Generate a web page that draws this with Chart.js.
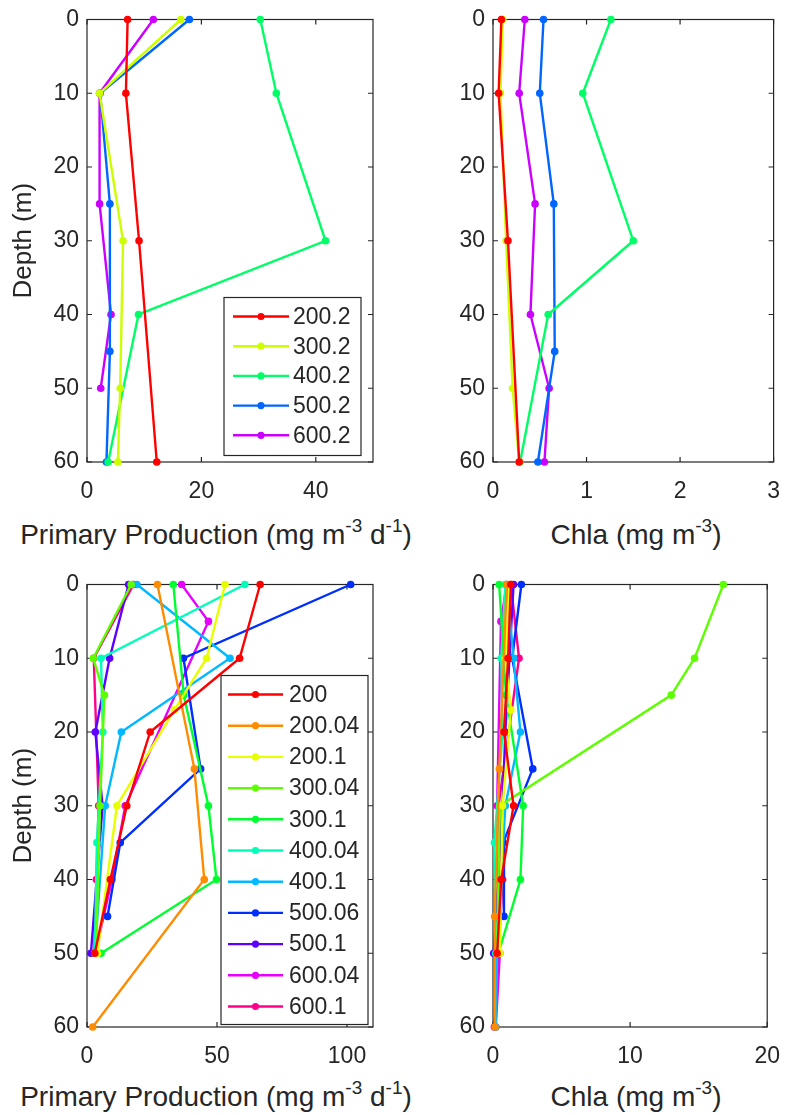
<!DOCTYPE html>
<html>
<head>
<meta charset="utf-8">
<script src="https://cdn.jsdelivr.net/npm/chart.js@4.4.1/dist/chart.umd.min.js"></script>
<style>
  body { margin: 0; background: #fff; }
  #wrap { position: relative; width: 798px; height: 1116px; font-family: 'Liberation Sans', Arial, sans-serif; color: #262626; }
  canvas { position: absolute; }
  .xt { position: absolute; white-space: nowrap; font-size: 28px; line-height: 32px; transform: translate(-50%, -50%); }
  .xt sup { font-size: 19px; vertical-align: 12px; line-height: 0; }
</style>
</head>
<body>
<div id="wrap">
  <canvas id="c1" width="399" height="510" style="left:0;top:0"></canvas>
  <canvas id="c2" width="399" height="510" style="left:399px;top:0"></canvas>
  <canvas id="c3" width="399" height="510" style="left:0;top:565px"></canvas>
  <canvas id="c4" width="399" height="510" style="left:399px;top:565px"></canvas>
  <div class="xt" style="left:216px;top:535px">Primary Production (mg m<sup>-3</sup> d<sup>-1</sup>)</div>
  <div class="xt" style="left:636px;top:535px">Chla (mg m<sup>-3</sup>)</div>
  <div class="xt" style="left:216px;top:1097px">Primary Production (mg m<sup>-3</sup> d<sup>-1</sup>)</div>
  <div class="xt" style="left:636px;top:1097px">Chla (mg m<sup>-3</sup>)</div>
</div>
<script>
// ---- 上排: 5 个站位 ----
const topLabels = ['200.2', '300.2', '400.2', '500.2', '600.2'];
const topColors = ['#ff0000', '#ccff00', '#00ff66', '#0066ff', '#cc00ff'];
const topPPDepth = [[0, 10, 30, 60], [0, 10, 30, 50, 60], [0, 10, 30, 40, 60], [0, 10, 25, 45, 60], [0, 10, 25, 40, 50]];
const topPPValue = [[7.1, 6.8, 9.1, 12.2], [16.4, 2.2, 6.3, 5.8, 5.4], [30.3, 33.1, 41.7, 9.0, 3.7], [17.9, 2.3, 4.0, 4.0, 3.4], [11.6, 2.2, 2.2, 4.2, 2.4]];
const topChlaDepth = [[0, 10, 30, 60], [0, 10, 30, 50, 60], [0, 10, 30, 40, 60], [0, 10, 25, 45, 60], [0, 10, 25, 40, 50, 60]];
const topChlaValue = [[0.09, 0.06, 0.16, 0.28], [0.105, 0.08, 0.14, 0.21, 0.28], [1.26, 0.96, 1.50, 0.59, 0.29], [0.54, 0.50, 0.65, 0.66, 0.48], [0.34, 0.28, 0.45, 0.40, 0.60, 0.55]];

// ---- 下排: 11 个站位 ----
const botLabels = ['200', '200.04', '200.1', '300.04', '300.1', '400.04', '400.1', '500.06', '500.1', '600.04', '600.1'];
const botColors = ['#ff0000', '#ff8b00', '#e8ff00', '#5dff00', '#00ff2e', '#00ffb9', '#00b9ff', '#002eff', '#5d00ff', '#e800ff', '#ff008b'];
const botPPDepth = [[0, 10, 20, 30, 40, 50], [0, 25, 40, 60], [0, 10, 17, 30, 50], [0, 10, 15, 30, 50], [0, 15, 30, 40, 50], [0, 10, 20, 35, 50], [0, 10, 20, 30, 50], [0, 10, 25, 35, 45], [0, 10, 20, 30, 50], [0, 5, 30, 40, 50], [0, 10, 30, 40, 50]];
const botPPValue = [[66.6, 58.7, 24.3, 15.3, 9.0, 3.0], [27.1, 41.3, 45.1, 2.2], [53.1, 46.0, 33.6, 11.5, 4.0], [17.0, 2.4, 6.7, 5.0, 3.5], [33.2, 37.2, 46.7, 49.8, 5.4], [60.7, 5.4, 6.1, 3.8, 3.0], [19.2, 55.0, 13.2, 7.0, 3.0], [101.4, 37.1, 43.7, 12.8, 7.9], [16.0, 8.7, 3.2, 6.0, 1.5], [36.4, 46.7, 14.7, 9.6, 3.2], [17.9, 2.6, 4.5, 3.6, 2.8]];
const botChlaDepth = [[0, 10, 20, 30, 40, 50], [0, 25, 45, 60], [0, 10, 17, 30, 50], [0, 10, 15, 30, 50], [0, 15, 30, 40, 50], [0, 10, 20, 35, 50], [0, 10, 20, 30, 50, 60], [0, 10, 25, 35, 45], [0, 10, 20, 30, 50], [0, 5, 30, 40, 50, 60], [0, 10, 30, 40, 50, 60]];
const botChlaValue = [[1.3, 1.1, 0.8, 1.5, 0.6, 0.3], [1.0, 0.46, 0.12, 0.15], [1.2, 0.9, 1.3, 0.7, 0.5], [16.8, 14.7, 13.0, 0.5, 0.3], [0.45, 0.95, 2.2, 2.0, 0.4], [0.9, 0.6, 0.7, 0.1, 0.2], [1.0, 1.5, 2.0, 0.9, 0.3, 0.2], [2.07, 1.4, 2.9, 0.74, 0.8], [1.5, 1.2, 0.9, 0.7, 0.05], [1.0, 0.58, 0.3, 0.4, 0.5, 0.2], [1.3, 1.9, 0.4, 0.7, 0.4, 0.1]];

// 刻度
const depthTicks = [0, 10, 20, 30, 40, 50, 60];
const topPPTicks = [0, 20, 40];
const topChlaTicks = [0, 1, 2, 3];
const botPPTicks = [0, 50, 100];
const botChlaTicks = [0, 10, 20];

Chart.defaults.font.family = "'Liberation Sans', Arial, sans-serif";
Chart.defaults.color = '#262626';

// MATLAB 风格的边框和朝内刻度
const matlabBox = {
    id: 'matlabBox',
    beforeDatasetsDraw(chart) {
        const {ctx, chartArea: a, scales: {x, y}} = chart;
        ctx.save();
        ctx.strokeStyle = '#262626';
        ctx.lineWidth = 1.2;
        ctx.strokeRect(a.left, a.top, a.right - a.left, a.bottom - a.top);
        ctx.beginPath();
        x.ticks.forEach(t => {
            const px = x.getPixelForValue(t.value);
            ctx.moveTo(px, a.bottom); ctx.lineTo(px, a.bottom - 5);
            ctx.moveTo(px, a.top); ctx.lineTo(px, a.top + 5);
        });
        y.ticks.forEach(t => {
            const py = y.getPixelForValue(t.value);
            ctx.moveTo(a.left, py); ctx.lineTo(a.left + 5, py);
            ctx.moveTo(a.right, py); ctx.lineTo(a.right - 5, py);
        });
        ctx.stroke();
        ctx.restore();
    }
};

// 图内图例
const boxLegend = {
    id: 'boxLegend',
    afterDatasetsDraw(chart, args, opts) {
        if (!opts.show) return;
        const {ctx, chartArea: a} = chart;
        const ds = chart.data.datasets;
        const x0 = a.left + opts.left, y0 = a.top + opts.top;
        ctx.save();
        ctx.fillStyle = '#fff';
        ctx.fillRect(x0, y0, opts.width, opts.height);
        ctx.strokeStyle = '#262626';
        ctx.lineWidth = 1.2;
        ctx.strokeRect(x0, y0, opts.width, opts.height);
        ctx.font = opts.fontSize + "px 'Liberation Sans', Arial, sans-serif";
        ctx.textBaseline = 'middle';
        ds.forEach((d, i) => {
            const yy = y0 + opts.first + i * opts.row;
            ctx.strokeStyle = d.borderColor;
            ctx.lineWidth = 2.4;
            ctx.beginPath();
            ctx.moveTo(x0 + opts.lineStart, yy);
            ctx.lineTo(x0 + opts.lineEnd, yy);
            ctx.stroke();
            ctx.fillStyle = d.borderColor;
            ctx.beginPath();
            ctx.arc(x0 + (opts.lineStart + opts.lineEnd) / 2, yy, 3.6, 0, Math.PI * 2);
            ctx.fill();
            ctx.fillStyle = '#262626';
            ctx.fillText(d.label, x0 + opts.textX, yy + 1);
        });
        ctx.restore();
    }
};

const makeSets = (labels, colors, depths, values) => labels.map((lab, i) => ({
    label: lab,
    data: depths[i].map((d, j) => ({x: values[i][j], y: d})),
    borderColor: colors[i],
    backgroundColor: colors[i],
    pointBackgroundColor: colors[i],
    pointBorderWidth: 0,
    pointRadius: 3.8,
    borderWidth: 2.4,
    showLine: true,
    clip: false
}));

const drawPanel = (id, datasets, xMax, xTicks, showDepthTitle, yWidth, legend) => {
    const ctx = document.getElementById(id).getContext('2d');
    new Chart(ctx, {
        type: 'scatter',
        data: {datasets: datasets},
        plugins: [matlabBox, boxLegend],
        options: {
            responsive: false,
            animation: false,
            layout: {padding: {top: 16, right: 399 - yWidth - 286, left: 0, bottom: 0}},
            plugins: {
                legend: {display: false},
                tooltip: {enabled: false},
                boxLegend: legend
            },
            scales: {
                x: {
                    type: 'linear',
                    min: 0,
                    max: xMax,
                    afterBuildTicks: s => { s.ticks = xTicks.map(v => ({value: v})); },
                    afterFit: s => { s.height = 48; },
                    grid: {display: false, drawTicks: false},
                    border: {display: false},
                    ticks: {font: {size: 23, lineHeight: 1}, padding: 18, color: '#262626'}
                },
                y: {
                    type: 'linear',
                    reverse: true,
                    min: 0,
                    max: 60,
                    afterBuildTicks: s => { s.ticks = depthTicks.map(v => ({value: v})); },
                    afterFit: s => { s.width = yWidth; },
                    grid: {display: false, drawTicks: false},
                    border: {display: false},
                    ticks: {font: {size: 23, lineHeight: 1}, padding: 8, color: '#262626'},
                    title: {display: showDepthTitle, text: 'Depth (m)', font: {size: 26}, color: '#262626', padding: {top: 8, bottom: 0}}
                }
            }
        }
    });
};

window.onload = () => {
    drawPanel('c1', makeSets(topLabels, topColors, topPPDepth, topPPValue), 50, topPPTicks, true, 87,
        {show: true, left: 137, top: 278, width: 137, height: 158, first: 19, row: 29.7, lineStart: 9, lineEnd: 65, textX: 69, fontSize: 23});
    drawPanel('c2', makeSets(topLabels, topColors, topChlaDepth, topChlaValue), 3, topChlaTicks, false, 94, {show: false});
    drawPanel('c3', makeSets(botLabels, botColors, botPPDepth, botPPValue), 110, botPPTicks, true, 87,
        {show: true, left: 134, top: 91, width: 147, height: 349, first: 19, row: 31.2, lineStart: 7, lineEnd: 62, textX: 68, fontSize: 23});
    drawPanel('c4', makeSets(botLabels, botColors, botChlaDepth, botChlaValue), 20, botChlaTicks, false, 94, {show: false});
};
</script>
</body>
</html>
